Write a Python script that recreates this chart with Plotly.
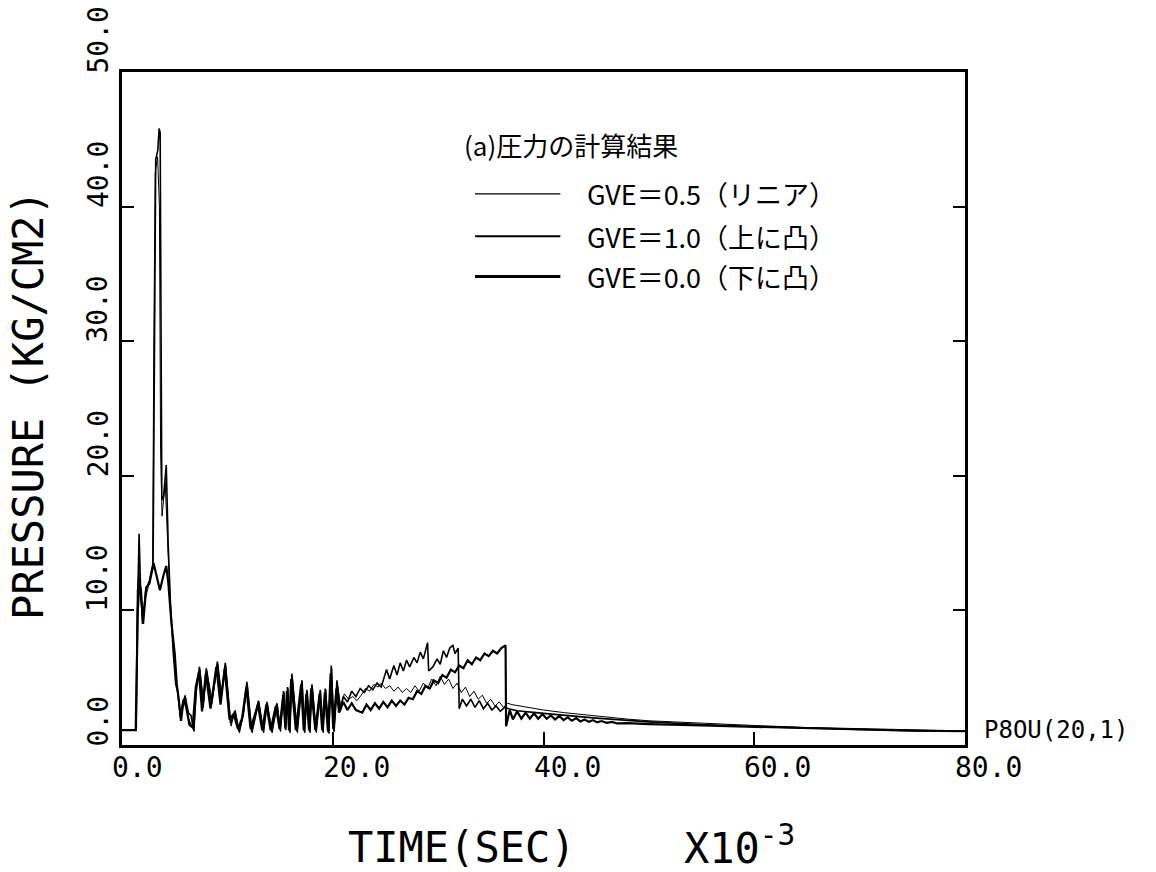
import plotly.graph_objects as go

# ---------------- data ----------------
# GVE = 1.0 (上に凸)
t_gve10 = [0.0, 1.35, 1.5, 1.62, 1.75, 1.95, 2.25, 2.6, 2.95, 3.05, 3.2, 3.4, 3.52, 3.62, 3.7, 3.78,
           3.95, 4.2, 4.38, 4.6, 4.85, 5.1, 5.3, 5.55, 5.8, 6.0, 6.3, 6.55, 6.8, 7.05, 7.35, 7.7,
           8.0, 8.5, 9.05, 9.4, 9.8, 10.3, 10.7, 11.1, 11.5, 11.85, 12.3, 12.95, 13.4, 13.75, 14.2,
           14.7, 15.0, 15.33, 15.5, 15.71, 15.9, 16.12, 16.6, 17.07, 17.3, 17.55, 17.8, 18.02, 18.4,
           18.81, 19.05, 19.29, 19.6, 19.86, 20.1, 20.4, 20.7, 21.0, 21.4, 21.8, 22.2, 22.6, 23.0,
           23.4, 23.8, 24.2, 24.6, 25.1, 25.4, 25.8, 26.1, 26.4, 26.7, 27.0, 27.3, 27.7, 28.0, 28.3,
           28.6, 29.0, 29.1, 29.5, 29.9, 30.2, 30.5, 30.8, 31.1, 31.4, 31.6, 31.9, 32.0, 32.3, 32.7,
           33.1, 33.5, 33.9, 34.3, 34.7, 35.1, 35.5, 35.9, 36.3, 36.7, 37.5, 40.0, 45.0, 50.0, 55.0,
           60.0, 65.0, 70.0, 75.0, 80.0]
p_gve10 = [1.1, 1.1, 11.0, 15.7, 12.0, 9.0, 11.5, 12.2, 13.5, 26.0, 43.5, 44.2, 45.8, 45.5, 28.0, 18.2,
           18.5, 20.8, 15.0, 10.5, 7.0, 4.5, 3.9, 2.0, 3.0, 3.6, 2.4, 2.2, 1.1, 4.0, 5.8, 2.8,
           5.7, 3.0, 6.2, 3.5, 6.1, 1.6, 2.5, 1.0, 2.2, 4.7, 1.0, 3.3, 1.0, 3.2, 1.0,
           3.1, 1.1, 4.0, 1.2, 4.3, 1.0, 5.3, 1.0, 4.8, 1.0, 4.1, 1.0, 4.5, 1.0,
           4.1, 1.0, 4.2, 0.9, 5.9, 1.0, 4.8, 2.5, 3.6, 3.2, 4.0, 3.6, 4.2, 3.9,
           4.4, 4.1, 4.6, 4.3, 5.6, 4.9, 5.9, 5.2, 6.1, 5.5, 6.3, 5.8, 6.5, 6.1, 6.9,
           6.4, 7.6, 5.5, 5.8, 6.4, 6.0, 7.0, 6.5, 7.2, 7.4, 6.8, 7.2, 2.7, 3.4, 2.9,
           3.4, 2.8, 3.3, 2.7, 3.1, 2.6, 2.9, 2.5, 2.8, 2.7, 2.55, 2.35, 2.0, 1.72, 1.52,
           1.38, 1.25, 1.15, 1.07, 1.02]

# GVE = 0.5 (リニア)
t_gve05 = [0.0, 1.3, 1.45, 1.6, 1.75, 1.95, 2.25, 2.6, 2.9, 3.02, 3.15, 3.38, 3.55, 3.66, 3.8, 4.1,
           4.35, 4.6, 4.85, 5.1, 5.3, 5.5, 5.75, 6.0, 6.3, 6.6, 6.85, 7.1, 7.4, 7.75, 8.05, 8.55,
           9.1, 9.45, 9.85, 10.35, 10.75, 11.15, 11.55, 11.9, 12.35, 13.0, 13.45, 13.8, 14.25, 14.75,
           15.05, 15.38, 15.55, 15.75, 15.95, 16.17, 16.65, 17.12, 17.35, 17.6, 17.85, 18.07, 18.45,
           18.85, 19.1, 19.34, 19.65, 19.9, 20.15, 20.45, 20.75, 21.1, 21.5, 21.9, 22.3, 22.7, 23.1,
           23.5, 23.9, 24.3, 24.6, 25.0, 25.4, 25.8, 26.2, 26.6, 27.0, 27.4, 27.8, 28.2, 28.6, 29.0,
           29.4, 29.8, 30.2, 30.6, 31.0, 31.4, 31.8, 32.2, 32.6, 33.0, 33.4, 33.8, 34.2, 34.6, 35.0,
           35.4, 35.8, 36.2, 36.6, 37.0, 38.0, 40.0, 42.0, 45.0, 48.0, 50.0, 55.0, 60.0, 65.0, 70.0,
           75.0, 80.0]
p_gve05 = [1.1, 1.1, 11.5, 13.0, 11.0, 9.5, 11.0, 12.0, 13.0, 30.0, 42.5, 43.7, 40.0, 22.0, 17.0, 19.5,
           14.5, 10.0, 7.5, 4.8, 3.8, 2.3, 3.2, 3.7, 2.0, 1.5, 1.0, 4.8, 5.6, 3.2, 5.5, 3.3,
           6.0, 3.8, 5.9, 1.4, 2.6, 0.9, 2.4, 4.5, 0.9, 3.2, 0.9, 3.1, 0.9, 3.0,
           1.0, 3.9, 1.1, 4.2, 0.9, 5.1, 0.9, 4.7, 0.9, 4.0, 0.9, 4.4, 0.9,
           4.0, 0.9, 4.1, 0.85, 5.7, 1.0, 4.5, 2.9, 3.8, 3.4, 3.6, 3.3, 3.7, 4.2,
           4.0, 4.5, 4.3, 4.6, 4.2, 4.4, 4.0, 4.3, 3.9, 4.2, 3.9, 4.4, 4.0, 4.6, 4.2,
           4.9, 4.4, 5.1, 4.5, 4.9, 4.2, 4.6, 3.9, 4.3, 3.6, 4.0, 3.4, 3.7, 3.1, 3.4,
           2.9, 3.2, 2.8, 3.1, 3.0, 2.85, 2.6, 2.4, 2.15, 1.92, 1.8, 1.6, 1.45, 1.3, 1.2,
           1.1, 1.05]

# GVE = 0.0 (下に凸)
t_gve00 = [0.0, 1.3, 1.5, 1.65, 1.8, 2.0, 2.3, 2.6, 3.0, 3.3, 3.6, 3.9, 4.2, 4.4, 4.7, 5.0,
           5.2, 5.4, 5.6, 5.85, 6.1, 6.4, 6.7, 7.0, 7.3, 7.6, 7.95, 8.4, 8.95, 9.35, 9.75, 10.2,
           10.6, 11.0, 11.4, 11.8, 12.2, 12.9, 13.3, 13.7, 14.1, 14.6, 14.95, 15.3, 15.5, 15.65,
           15.85, 16.05, 16.5, 17.0, 17.25, 17.5, 17.75, 17.95, 18.35, 18.75, 19.0, 19.25, 19.55,
           19.8, 20.05, 20.35, 20.6, 21.0, 21.4, 21.8, 22.2, 22.8, 23.2, 23.6, 24.0, 24.4, 24.8,
           25.2, 25.6, 26.0, 26.4, 26.8, 27.2, 27.6, 28.0, 28.4, 28.8, 29.2, 29.6, 30.0, 30.4, 30.8,
           31.2, 31.6, 32.0, 32.4, 32.8, 33.2, 33.6, 34.0, 34.4, 34.8, 35.2, 35.6, 36.0, 36.4, 36.45,
           36.8, 37.1, 37.5, 37.9, 38.3, 38.7, 39.1, 39.5, 39.9, 40.3, 40.7, 41.1, 41.5, 41.9, 42.3,
           42.7, 43.1, 43.5, 43.9, 44.3, 44.7, 45.1, 45.5, 46.0, 46.5, 47.0, 48.0, 50.0, 55.0, 60.0,
           65.0, 70.0, 75.0, 80.0]
p_gve00 = [1.1, 1.1, 10.0, 12.0, 11.5, 9.0, 11.7, 12.0, 13.5, 12.5, 11.5, 12.5, 13.3, 12.0, 9.0, 6.8,
           4.5, 3.3, 1.8, 3.4, 2.8, 1.5, 1.3, 4.3, 5.4, 2.5, 5.3, 2.7, 5.8, 3.0, 5.7, 1.9,
           2.3, 1.2, 2.0, 4.3, 1.2, 3.0, 1.1, 3.0, 1.1, 2.9, 1.2, 3.7, 1.3, 4.0,
           1.1, 4.9, 1.1, 4.5, 1.1, 3.8, 1.1, 4.2, 1.1, 3.8, 1.1, 3.9, 1.0,
           5.3, 1.2, 4.2, 2.4, 3.2, 2.6, 3.1, 2.6, 2.4, 3.0, 2.6, 3.1, 2.7, 3.2,
           2.8, 3.3, 2.9, 3.3, 3.0, 3.5, 3.4, 4.0, 3.8, 4.4, 4.2, 4.8, 4.6, 5.2, 5.0,
           5.6, 5.4, 5.9, 5.7, 6.3, 6.0, 6.5, 6.3, 6.8, 6.6, 7.0, 6.8, 7.2, 7.4, 1.4,
           2.6, 1.9, 2.5, 1.95, 2.4, 1.95, 2.35, 1.95, 2.3, 1.95, 2.2, 1.9, 2.15, 1.85, 2.05,
           1.8, 2.0, 1.75, 1.9, 1.72, 1.85, 1.68, 1.78, 1.65, 1.72, 1.6, 1.62, 1.55, 1.45, 1.35,
           1.22, 1.12, 1.06, 1.02]

x_tick_vals = [0, 20, 40, 60, 80]
x_tick_text = ["0.0", "20.0", "40.0", "60.0", "80.0"]
y_tick_vals = [0, 10, 20, 30, 40, 50]
y_tick_text = ["0.0", "10.0", "20.0", "30.0", "40.0", "50.0"]

legend_title = "(a)圧力の計算結果"
series_names = ["GVE＝0.5（リニア）", "GVE＝1.0（上に凸）", "GVE＝0.0（下に凸）"]
legend_widths = [1.2, 2.0, 3.0]
trace_widths = [1.0, 1.6, 2.2]

# ---------------- figure ----------------
W, H = 1156, 872
L, R, T, B = 122, 191, 72, 127

fig = go.Figure()
for t, p, w in [(t_gve05, p_gve05, trace_widths[0]),
                (t_gve10, p_gve10, trace_widths[1]),
                (t_gve00, p_gve00, trace_widths[2])]:
    fig.add_trace(go.Scatter(x=t, y=p, mode="lines",
                             line=dict(color="black", width=w),
                             showlegend=False, hoverinfo="skip"))

MONO = "DejaVu Sans Mono"
CJK = "Noto Sans CJK JP"
ann = []
for v, s in zip(x_tick_vals, x_tick_text):
    ann.append(dict(x=v, xref="x", y=0, yref="paper", text=s, showarrow=False,
                    xanchor="left", xshift=-12, yanchor="middle", yshift=-22,
                    font=dict(family=MONO, size=28, color="black")))
for v, s in zip(y_tick_vals, y_tick_text):
    ann.append(dict(x=0, xref="paper", y=v, yref="y", text=s, showarrow=False,
                    textangle=-90, xanchor="center", xshift=-24, yanchor="bottom", yshift=-4,
                    font=dict(family=MONO, size=28, color="black")))

ann.append(dict(x=0, xref="paper", xshift=-94, xanchor="center",
                y=(H - B - 405) / (H - T - B), yref="paper", yanchor="middle", textangle=-90,
                text="PRESSURE (KG/CM2)", showarrow=False,
                font=dict(family=MONO, size=42, color="black")))
ann.append(dict(x=(346 - L) / (W - L - R), xref="paper", xanchor="left",
                y=(H - B - 848) / (H - T - B), yref="paper", yanchor="middle",
                text="TIME(SEC)", showarrow=False,
                font=dict(family=MONO, size=42, color="black")))
ann.append(dict(x=(682 - L) / (W - L - R), xref="paper", xanchor="left",
                y=(H - B - 846) / (H - T - B), yref="paper", yanchor="middle",
                text="X10<sup>-3</sup>", showarrow=False,
                font=dict(family=MONO, size=42, color="black")))
ann.append(dict(x=1, xref="paper", xshift=17, xanchor="left",
                y=(H - B - 730) / (H - T - B), yref="paper", yanchor="middle",
                text="P8OU(20,1)", showarrow=False,
                font=dict(family=MONO, size=24, color="black")))

# legend (drawn manually to match the original layout)
ann.append(dict(x=32.3, xref="x", xanchor="left", y=44.6, yref="y", yanchor="middle",
                text=legend_title, showarrow=False,
                font=dict(family=CJK, size=26, color="black")))
legend_y = [40.95, 37.8, 34.8]
shapes = []
for yy, name, w in zip(legend_y, series_names, legend_widths):
    shapes.append(dict(type="line", xref="x", yref="y", x0=33.5, x1=41.6, y0=yy, y1=yy,
                       line=dict(color="black", width=w)))
    ann.append(dict(x=43.9, xref="x", xanchor="left", y=yy, yref="y", yanchor="middle",
                    text=name, showarrow=False,
                    font=dict(family=CJK, size=27, color="black")))

fig.update_layout(
    width=W, height=H,
    margin=dict(l=L, r=R, t=T, b=B),
    paper_bgcolor="white", plot_bgcolor="white",
    annotations=ann, shapes=shapes,
    xaxis=dict(range=[0, 80], showgrid=False, zeroline=False, showline=True, mirror=True,
               linecolor="black", linewidth=2.5, ticks="inside", ticklen=13, tickwidth=2,
               tickcolor="black", tickvals=[20, 40, 60], showticklabels=False),
    yaxis=dict(range=[0, 50], showgrid=False, zeroline=False, showline=True, mirror="ticks",
               linecolor="black", linewidth=2.5, ticks="inside", ticklen=12, tickwidth=2,
               tickcolor="black", tickvals=[10, 20, 30, 40], showticklabels=False),
)

fig.write_html("out.html")
